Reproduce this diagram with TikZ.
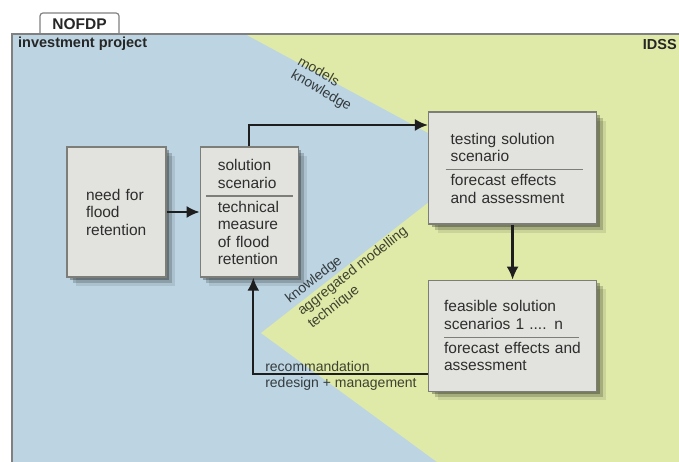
\documentclass[tikz,border=0pt]{standalone}
\usepackage{fontspec}
\setmainfont{Liberation Sans}
\usetikzlibrary{arrows.meta, positioning, shadows}
\definecolor{planblue}{HTML}{BDD5E2}
\definecolor{idssgreen}{HTML}{DFEAA8}
\definecolor{boxfill}{HTML}{E2E2DE}
\definecolor{boxline}{HTML}{7E7E78}
\definecolor{frameline}{HTML}{808080}
\definecolor{inkcolor}{HTML}{1E1E1E}
\newcommand{\boxfont}{\fontsize{15.5}{17.5}\selectfont}
\newcommand{\tagfont}{\fontsize{14}{16.5}\selectfont}
\newcommand{\headfont}{\bfseries\fontsize{14.5}{17}\selectfont}
% divider inside a box: shift, width
\newcommand{\splitrule}[2]{\par\vspace{-8.85pt}\leavevmode\hspace*{#1}{\color{boxline}\rule{#2}{1.4pt}}\par\vspace{-2.15pt}}

\begin{document}
\begin{tikzpicture}[x=1pt, y=-1pt,
    box/.style={rectangle, draw=boxline, line width=1.3pt, fill=boxfill,
                inner sep=0pt, align=left, font=\boxfont, text=black!82,
                drop shadow={shadow xshift=3pt, shadow yshift=-3pt, opacity=.28, fill=black},
                drop shadow={shadow xshift=6pt, shadow yshift=-6pt, opacity=.18, fill=black},
                drop shadow={shadow xshift=9pt, shadow yshift=-9pt, opacity=.09, fill=black}},
    flow/.style={-{Latex[length=13pt, width=12pt]}, line width=2.3pt, color=inkcolor},
    tag/.style={font=\tagfont, text=black, text opacity=.72, inner sep=0pt},
    head/.style={font=\headfont, text=black!85, inner sep=0pt}
]
\clip (0,0) rectangle (679,462);

% Tab
\draw[frameline, fill=white, line width=1.2pt, rounded corners=3pt] (40,38) |- (119,13) -- (119,38);
\node[head, font=\bfseries\fontsize{15.5}{17}\selectfont] (nofdp) at (79.5,24) {NOFDP};

% Areas
\coordinate (topcut) at (245,34);
\coordinate (wedge) at (481,161.5);
\coordinate (tongue) at (261,333);
\coordinate (botcut) at (437,462);
\fill[planblue] (12,34) rectangle (700,480);
\fill[idssgreen] (topcut) -- (700,34) -- (700,480) -- (437,480) -- (botcut) -- (tongue) -- (wedge) -- cycle;
\draw[frameline, line width=1.3pt] (12,480) -- (12,34) -- (700,34);

\node[head, anchor=west] (invest) at (18,44) {investment project};
\node[head, anchor=east] (idss) at (677,45) {IDSS};

% Border labels
\node[tag, rotate=-30] (models) at (319,71) {models};
\node[tag, rotate=-30] (knowtop) at (321,91) {knowledge};
\node[tag, rotate=38] (knowlow) at (314,280) {knowledge};
\node[tag, rotate=38, align=left] (aggr) at (358,278) {aggregated modelling\\technique};

% Boxes
\node[box, minimum width=99pt, minimum height=130pt, text width=61pt] (need) at (116.5,212)
  {need for\\flood\\retention};
\node[box, minimum width=98pt, minimum height=130pt, text width=63pt, right=33pt of need] (sol)
  {solution\\scenario\splitrule{-11.5pt}{87pt}technical\\measure\\of flood\\retention};
\node[box, minimum width=168pt, minimum height=112pt, text width=124pt, right=129pt of sol, yshift=44pt] (test)
  {testing solution\\scenario\splitrule{-5pt}{137pt}forecast effects\\and assessment};
\node[box, minimum width=168pt, minimum height=111pt, text width=137pt, below=55pt of test] (feas)
  {feasible solution\\scenarios 1 .... n\splitrule{0pt}{135pt}forecast effects and\\assessment};

% Arrows
\draw[flow] (need) -- (sol);
\draw[flow] (sol.north) |- ([yshift=43pt]test.west);
\draw[flow] (test) -- (feas);
\draw[flow] ([yshift=-38.5pt]feas.west) -| ([xshift=4pt]sol.south)
  node[tag, pos=.469, anchor=base west, yshift=2.5pt] (recom) {recommandation}
  node[tag, pos=.469, anchor=north west, yshift=-1.5pt] (redes) {redesign + management};

\end{tikzpicture}
\end{document}
